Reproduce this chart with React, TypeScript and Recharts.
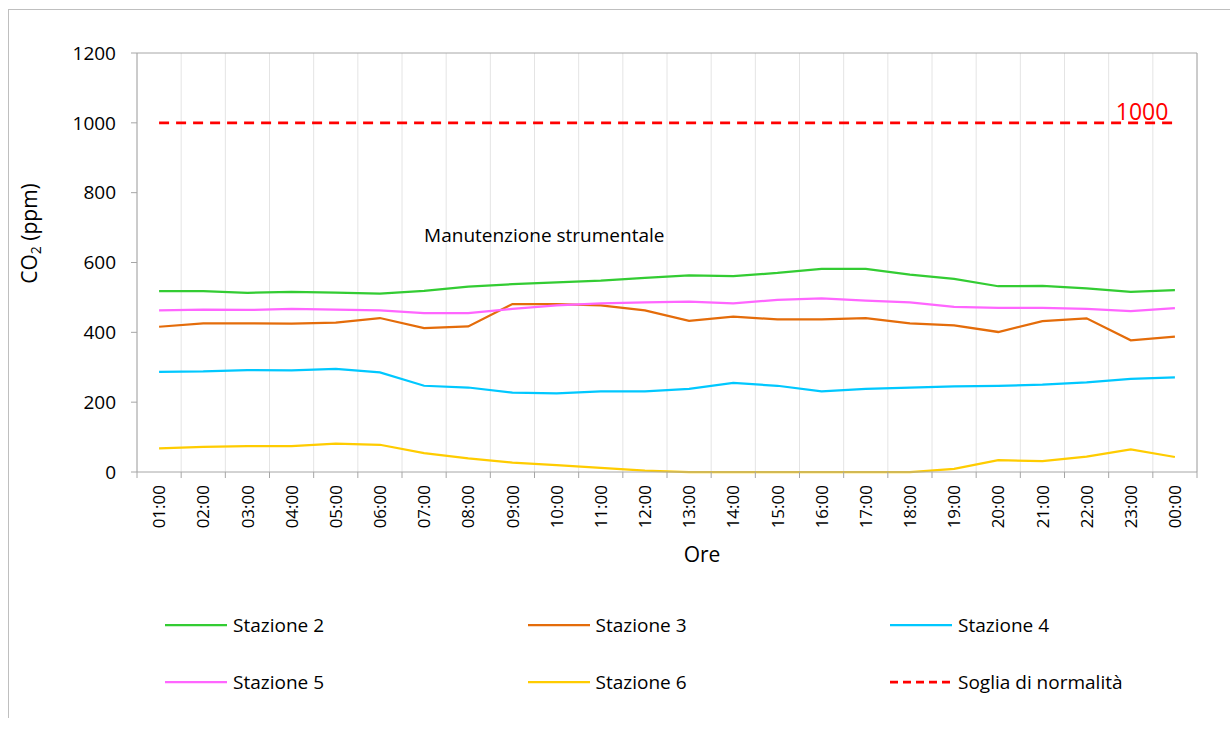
import React from 'react';
import { LineChart, Line, XAxis, YAxis, CartesianGrid, Legend, ReferenceDot, LabelList } from 'recharts';

const hours = ['01:00', '02:00', '03:00', '04:00', '05:00', '06:00', '07:00', '08:00', '09:00', '10:00', '11:00', '12:00',
  '13:00', '14:00', '15:00', '16:00', '17:00', '18:00', '19:00', '20:00', '21:00', '22:00', '23:00', '00:00'];

const stazione2 = [518, 518, 513, 516, 514, 511, 519, 531, 538, 543, 548, 556, 563, 561, 570, 582, 582, 565, 553, 532, 533, 526, 516, 521];
const stazione3 = [416, 426, 426, 425, 428, 441, 412, 417, 481, 481, 477, 463, 433, 445, 437, 437, 441, 426, 420, 401, 432, 440, 377, 388];
const stazione4 = [287, 288, 292, 291, 295, 285, 247, 242, 227, 225, 231, 231, 238, 255, 247, 231, 238, 242, 245, 247, 250, 257, 267, 271];
const stazione5 = [463, 465, 464, 467, 465, 463, 455, 455, 467, 477, 483, 486, 488, 483, 493, 497, 491, 486, 473, 470, 470, 467, 461, 469];
const stazione6 = [68, 72, 74, 74, 81, 78, 54, 39, 27, 20, 12, 4, 0, 0, 0, 0, 0, 0, 9, 34, 31, 44, 65, 43];
const soglia = [1000, 1000, 1000, 1000, 1000, 1000, 1000, 1000, 1000, 1000, 1000, 1000,
  1000, 1000, 1000, 1000, 1000, 1000, 1000, 1000, 1000, 1000, 1000, 1000];

const yTicks = [0, 200, 400, 600, 800, 1000, 1200];

const series = [
  { key: 's2', name: 'Stazione 2', color: '#33CC33', dash: undefined as string | undefined, width: 2.25 },
  { key: 's3', name: 'Stazione 3', color: '#E46C0A', dash: undefined, width: 2.25 },
  { key: 's4', name: 'Stazione 4', color: '#00C8FF', dash: undefined, width: 2.25 },
  { key: 's5', name: 'Stazione 5', color: '#FF66FF', dash: undefined, width: 2.25 },
  { key: 's6', name: 'Stazione 6', color: '#FFCC00', dash: undefined, width: 2.25 },
  { key: 'soglia', name: 'Soglia di normalità', color: '#FF0000', dash: '10 7', width: 2.75 },
];

const data = hours.map((h, i) => ({
  idx: i + 1,
  hour: h,
  s2: stazione2[i],
  s3: stazione3[i],
  s4: stazione4[i],
  s5: stazione5[i],
  s6: stazione6[i],
  soglia: soglia[i],
}));

const centers = hours.map((_, i) => i + 1);
const bounds = [0.5, ...hours.map((_, i) => i + 1.5)];

const FONT = "'Open Sans', 'DejaVu Sans', sans-serif";
const AXIS = '#a6a6a6';

const NoTick = () => <g />;

const HourTick = (props: any) => {
  const { x, y, payload } = props;
  const label = hours[Math.round(payload.value) - 1];
  return (
    <text transform={`translate(${x},${y + 7}) rotate(-90)`} textAnchor="end" dy="0.36em" fontSize={17} fill="#000">
      {label}
    </text>
  );
};

const YTitle = (props: any) => {
  const vb = props.viewBox || { x: 0, y: 53, width: 137, height: 419 };
  const x = vb.x + 37;
  const y = vb.y + vb.height / 2 - 29;
  return (
    <text transform={`rotate(-90, ${x}, ${y})`} x={x} y={y} textAnchor="middle" fontSize={21} fill="#000">
      CO<tspan fontSize={14} dy={4}>2</tspan><tspan dy={-4}> (ppm)</tspan>
    </text>
  );
};

const XTitle = (props: any) => {
  const vb = props.viewBox || { x: 137, y: 478, width: 1060, height: 60 };
  return (
    <text x={vb.x + vb.width / 2 + 35} y={vb.y + 84} textAnchor="middle" fontSize={21} fill="#000">
      Ore
    </text>
  );
};

const LegendContent = (props: any) => {
  const order = series.map((s) => s.key);
  const items = [...(props.payload || [])].sort(
    (a: any, b: any) => order.indexOf(a.dataKey) - order.indexOf(b.dataKey)
  );
  return (
    <div style={{ position: 'relative', width: 1230, height: 110, fontFamily: FONT }}>
      {items.map((e: any, i: number) => {
        const col = i % 3;
        const row = Math.floor(i / 3);
        const s = series.find((q) => q.key === e.dataKey);
        return (
          <div
            key={e.dataKey}
            style={{
              position: 'absolute',
              left: 165 + col * 362.5,
              top: 10 + row * 57,
              height: 30,
              display: 'flex',
              alignItems: 'center',
              whiteSpace: 'nowrap',
            }}
          >
            <svg width={62} height={6} style={{ display: 'block' }}>
              <line x1={0} y1={3} x2={62} y2={3} stroke={e.color} strokeWidth={s ? s.width : 2.25} strokeDasharray={s && s.dash ? '8 5' : undefined} />
            </svg>
            <span style={{ marginLeft: 6, fontSize: 19, color: '#000', lineHeight: '30px' }}>{e.value}</span>
          </div>
        );
      })}
    </div>
  );
};

const SogliaLabel = (props: any) => {
  const { x, y, index, value } = props;
  if (index !== hours.length - 1) return null;
  return (
    <text x={x - 6.5} y={y - 2.6} textAnchor="end" fontSize={23} fill="#FF0000">
      {String(value)}
    </text>
  );
};

export default function App() {
  return (
    <div style={{ position: 'absolute', left: 0, top: 0, width: 1230, height: 733, background: '#fff', overflow: 'hidden', fontFamily: FONT }}>
      <div style={{ position: 'absolute', left: 8, top: 9, width: 1400, height: 708, borderLeft: '1px solid #bfbfbf', borderTop: '1px solid #bfbfbf' }} />
      <div style={{ position: 'absolute', left: 0, top: 0 }}>
        <LineChart width={1230} height={733} data={data} margin={{ top: 52, right: 32, left: 0, bottom: 195 }}>
          <CartesianGrid xAxisId="g" yAxisId="l" horizontal={false} vertical stroke="#e4e4e4" verticalPoints={undefined} />
          <XAxis
            xAxisId="g"
            type="number"
            dataKey="idx"
            domain={[0.5, 24.5]}
            allowDataOverflow
            ticks={bounds}
            interval={0}
            tick={<NoTick />}
            tickSize={6}
            tickLine={{ stroke: AXIS }}
            axisLine={{ stroke: AXIS }}
            height={6}
          />
          <XAxis
            xAxisId="l"
            type="number"
            dataKey="idx"
            domain={[0.5, 24.5]}
            allowDataOverflow
            ticks={centers}
            interval={0}
            tickLine={false}
            axisLine={false}
            tickSize={0}
            tickMargin={0}
            height={60}
            tick={<HourTick />}
            label={<XTitle />}
          />
          <XAxis
            xAxisId="t"
            orientation="top"
            type="number"
            domain={[0.5, 24.5]}
            allowDataOverflow
            ticks={[0.5, 24.5]}
            tick={<NoTick />}
            tickLine={false}
            axisLine={{ stroke: AXIS }}
            height={1}
          />
          <YAxis
            yAxisId="l"
            type="number"
            domain={[0, 1200]}
            ticks={yTicks}
            interval={0}
            width={137}
            tickSize={6}
            tickMargin={15}
            tickLine={{ stroke: AXIS }}
            axisLine={{ stroke: AXIS }}
            tick={{ fill: '#000', fontSize: 19 }}
            label={<YTitle />}
          />
          <YAxis
            yAxisId="r"
            orientation="right"
            type="number"
            domain={[0, 1200]}
            ticks={[0, 1200]}
            tick={<NoTick />}
            tickLine={false}
            axisLine={{ stroke: AXIS }}
            width={1}
          />
          <Legend
            layout="horizontal"
            verticalAlign="middle"
            align="center"
            wrapperStyle={{ left: 0, top: 600, width: 1230, height: 110 }}
            content={<LegendContent />}
          />
          {series.map((s) => (
            <Line
              key={s.key}
              xAxisId="l"
              yAxisId="l"
              type="linear"
              dataKey={s.key}
              name={s.name}
              stroke={s.color}
              strokeWidth={s.width}
              strokeDasharray={s.dash}
              dot={false}
              activeDot={false}
              isAnimationActive={false}
            >
              {s.key === 'soglia' ? <LabelList dataKey="soglia" content={<SogliaLabel />} /> : null}
            </Line>
          ))}
          <ReferenceDot
            xAxisId="l"
            yAxisId="l"
            x={7}
            y={678}
            r={0}
            fill="none"
            stroke="none"
            label={{ value: 'Manutenzione strumentale', position: 'right', offset: 0, fill: '#000', fontSize: 19 }}
          />
        </LineChart>
      </div>
    </div>
  );
}
